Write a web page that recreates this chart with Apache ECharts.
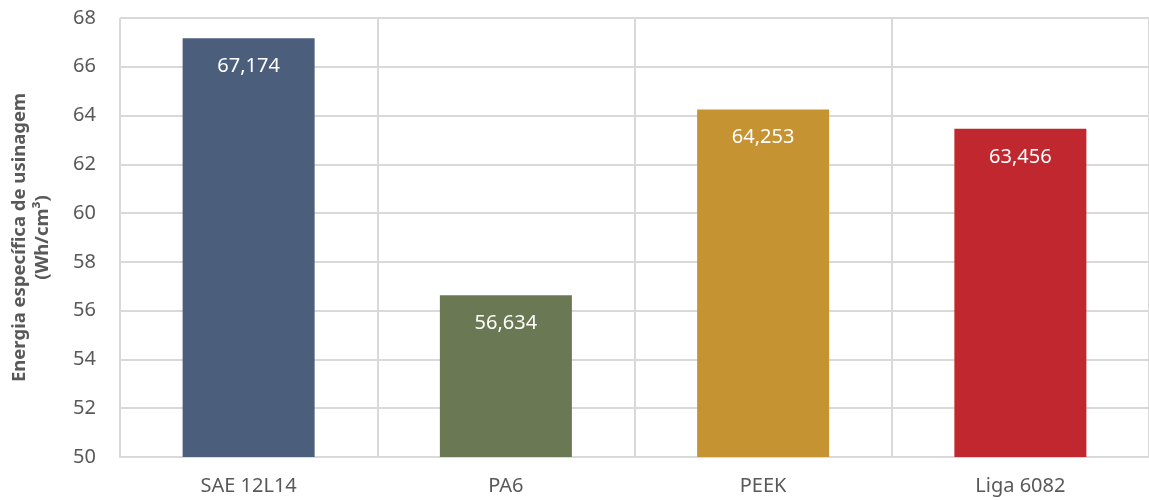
<!DOCTYPE html>
<html><head><meta charset="utf-8">
<script src="https://cdn.jsdelivr.net/npm/echarts@6/dist/echarts.min.js"></script>
<style>html,body{margin:0;padding:0;background:#fff}#c{width:1149px;height:500px}</style>
</head><body><div id="c"></div>
<script>
const categories = ["SAE 12L14", "PA6", "PEEK", "Liga 6082"];
const values = [67.174, 56.634, 64.253, 63.456];
const colors = ["#4b5f7c", "#6a7953", "#c69333", "#c0272e"];
const yTicks = {min: 50, max: 68, interval: 2};
const yName = "Energia específica de usinagem\n(Wh/cm³)";

const chart = echarts.init(document.getElementById('c'));
const font = '"Noto Sans", "Open Sans", sans-serif';
chart.setOption({
  animation: false,
  grid: {left: 118, right: -1, top: 18, bottom: 43, containLabel: false},
  xAxis: {
    type: 'category', data: categories,
    axisLine: {show: true, lineStyle: {color: '#d9d9d9', width: 2}},
    axisTick: {show: false},
    splitLine: {show: true, lineStyle: {color: '#d9d9d9', width: 2}},
    axisLabel: {color: '#595959', fontSize: 20, fontFamily: font, margin: 19}
  },
  yAxis: {
    type: 'value', min: yTicks.min, max: yTicks.max, interval: yTicks.interval,
    axisLine: {show: false}, axisTick: {show: false},
    splitLine: {lineStyle: {color: '#d9d9d9', width: 2}},
    axisLabel: {color: '#595959', fontSize: 20, fontFamily: font, margin: 24},
    name: yName, nameLocation: 'middle', nameGap: 66, nameRotate: 90,
    nameTextStyle: {color: '#595959', fontSize: 18.5, fontWeight: 'bold', fontFamily: font, lineHeight: 23, align: 'center'}
  },
  series: [{
    type: 'bar', barWidth: 132,
    data: values.map((v, i) => ({value: v, itemStyle: {color: colors[i]}})),
    label: {
      show: true, position: 'insideTop', distance: 18, color: '#fff', fontSize: 20, fontFamily: font,
      formatter: p => p.value.toFixed(3).replace('.', ',')
    }
  }]
});
</script></body></html>
